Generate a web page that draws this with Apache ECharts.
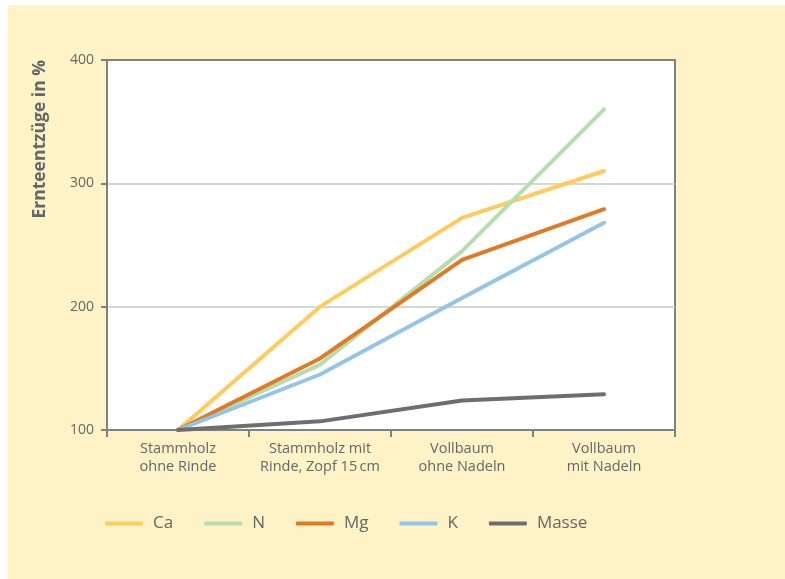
<!DOCTYPE html>
<html>
<head>
<meta charset="utf-8">
<script src="https://cdn.jsdelivr.net/npm/echarts@6/dist/echarts.min.js"></script>
<style>
html,body{margin:0;padding:0;background:#fff;}
#bg{position:absolute;left:8px;top:5px;width:777px;height:574px;background:#fef2c7;}
#chart{position:absolute;left:0;top:0;width:785px;height:579px;}
</style>
</head>
<body>
<div id="bg"></div>
<div id="chart"></div>
<script>
const categories = ['Stammholz\nohne Rinde', 'Stammholz mit\nRinde, Zopf 15\u2009cm', 'Vollbaum\nohne Nadeln', 'Vollbaum\nmit Nadeln'];
const seriesNames = ['Ca', 'N', 'Mg', 'K', 'Masse'];
const ca = [100, 200, 272, 310];
const n = [100, 153, 245, 360];
const mg = [100, 158, 238, 279];
const k = [100, 145, 207, 268];
const masse = [100, 107, 124, 129];
const colors = ['#ffcb5c', '#b5ddb0', '#e07b25', '#94c4e8', '#6e6e6e'];
const yTitle = 'Ernteentzüge in %';

const values = [ca, n, mg, k, masse];
const textColor = '#666666';
const font = '"Open Sans", "Noto Sans", sans-serif';

const chart = echarts.init(document.getElementById('chart'), null, {renderer: 'canvas'});
chart.setOption({
  backgroundColor: 'transparent',
  animation: false,
  textStyle: {fontFamily: font},
  grid: {left: 107, top: 60, right: 110, bottom: 149, show: true, backgroundColor: '#fff', borderColor: '#808080', borderWidth: 2},
  legend: {
    left: 105, top: 515, padding: 0, itemWidth: 38, itemHeight: 4, itemGap: 31, icon: 'roundRect',
    textStyle: {fontSize: 17, color: textColor, fontFamily: font, padding: [0, 0, 0, 5]},
    data: seriesNames
  },
  graphic: [{
    type: 'text', left: 31, top: 60, rotation: Math.PI / 2,
    style: {text: yTitle, fontSize: 17.5, fontWeight: 'bold', fill: textColor, fontFamily: font}
  }],
  xAxis: {
    type: 'category', data: categories, boundaryGap: true,
    axisLine: {show: true, lineStyle: {color: '#808080', width: 2}},
    axisTick: {show: true, interval: 0, length: 7, lineStyle: {color: '#808080', width: 2}},
    axisLabel: {interval: 0, color: textColor, fontSize: 14.5, lineHeight: 18, margin: 10, fontFamily: font}
  },
  yAxis: {
    type: 'value', min: 100, max: 400, interval: 100,
    axisLine: {show: true, lineStyle: {color: '#808080', width: 2}},
    axisTick: {show: true, length: 6, lineStyle: {color: '#808080', width: 2}},
    axisLabel: {color: textColor, fontSize: 14, margin: 13, fontFamily: font},
    splitLine: {show: true, lineStyle: {color: ['#808080', '#c8c8c8', '#c8c8c8', '#808080'], width: 1.5}}
  },
  series: seriesNames.map((name, i) => ({
    name: name, type: 'line', data: values[i], symbol: 'none',
    itemStyle: {color: colors[i]},
    lineStyle: {color: colors[i], width: 4, cap: 'round', join: 'round'}
  }))
});
</script>
</body>
</html>
